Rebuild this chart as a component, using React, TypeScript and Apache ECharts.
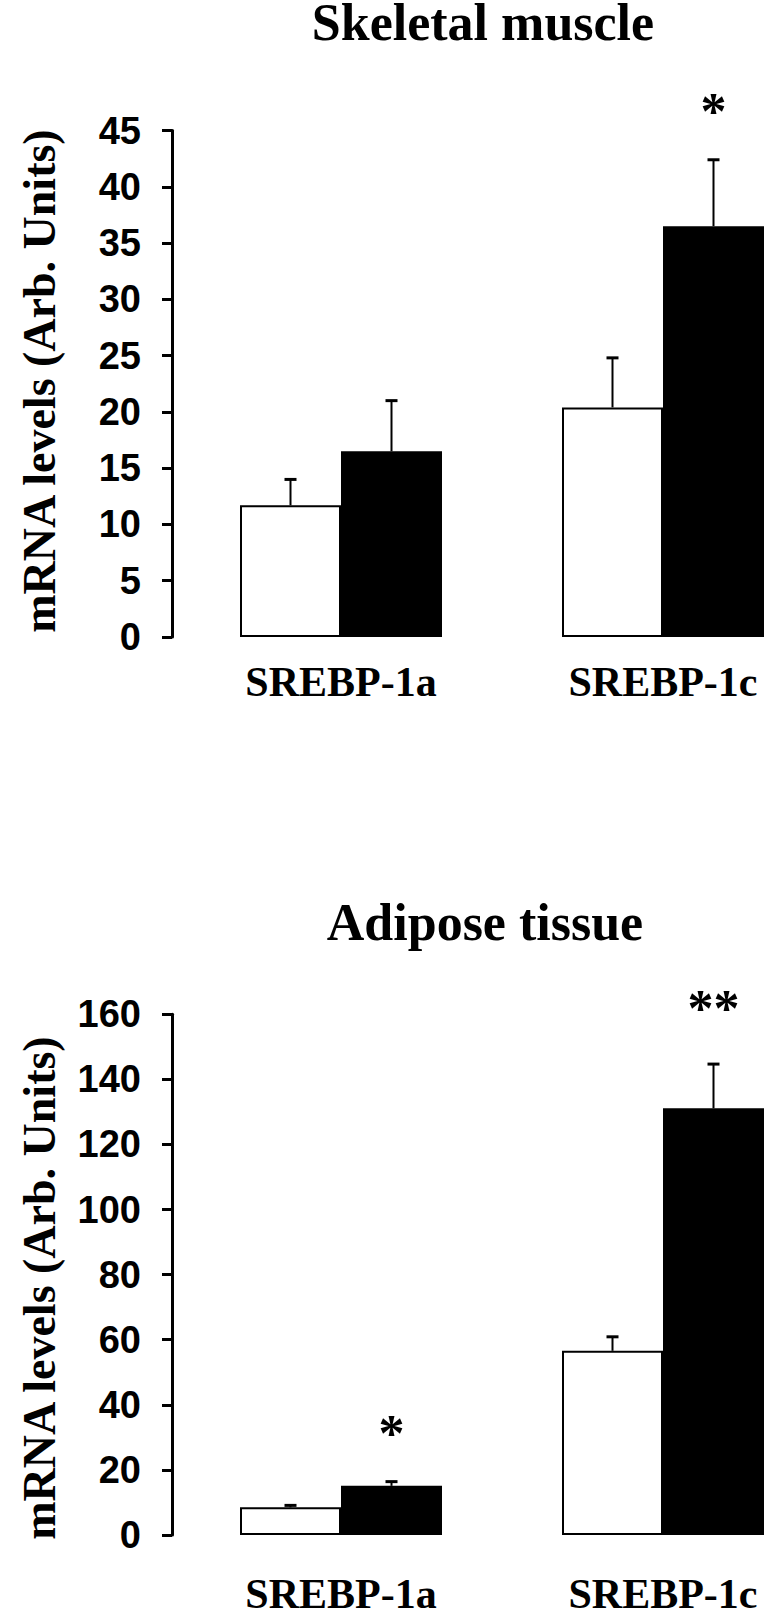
import { useEffect, useRef } from "react";
import * as echarts from "echarts";

const categories = ["SREBP-1a", "SREBP-1c"];

const muscleTitle = "Skeletal muscle";
const muscleControl = [11.7, 20.4];
const muscleControlSem = [2.3, 4.4];
const muscleTreated = [16.5, 36.5];
const muscleTreatedSem = [4.5, 5.9];
const muscleSig = ["", "*"];
const muscleAxis = { min: 0, max: 45, interval: 5 };

const adiposeTitle = "Adipose tissue";
const adiposeControl = [8.5, 56.6];
const adiposeControlSem = [0.6, 4.3];
const adiposeTreated = [15.1, 131.1];
const adiposeTreatedSem = [1.3, 13.6];
const adiposeSig = ["*", "**"];
const adiposeAxis = { min: 0, max: 160, interval: 20 };

const yTitle = "mRNA levels (Arb. Units)";

const SERIF = "'Liberation Serif', 'Times New Roman', serif";
const SANS = "'Liberation Sans', Arial, sans-serif";
const BAR_W = 101;

function errorSeries(g: number, means: number[], sems: number[], sig: string[], offset: number, lifts: number[]) {
  return {
    type: "custom",
    xAxisIndex: g,
    yAxisIndex: g,
    z: 5,
    data: means.map((m, i) => [i, m, m + sems[i]]),
    encode: { x: 0, y: [1, 2] },
    renderItem: (params: any, api: any) => {
      const i = api.value(0);
      const base = api.coord([i, api.value(1)]);
      const top = api.coord([i, api.value(2)]);
      const x = base[0] + offset;
      const children: any[] = [
        { type: "line", shape: { x1: x, y1: base[1], x2: x, y2: top[1] }, style: { stroke: "#000", lineWidth: 2 } },
        { type: "line", shape: { x1: x - 6, y1: top[1], x2: x + 6, y2: top[1] }, style: { stroke: "#000", lineWidth: 3 } },
      ];
      const s = sig[params.dataIndex];
      if (s) {
        children.push({
          type: "text",
          x,
          y: top[1] - lifts[params.dataIndex],
          style: {
            text: s,
            align: "center",
            verticalAlign: "middle",
            fontSize: 52,
            fontWeight: "bold",
            fontFamily: SERIF,
            fill: "#000",
          },
        });
      }
      return { type: "group", children };
    },
  };
}

function yAxisCfg(g: number, ax: { min: number; max: number; interval: number }) {
  return {
    gridIndex: g,
    type: "value",
    min: ax.min,
    max: ax.max,
    interval: ax.interval,
    offset: 8,
    splitLine: { show: false },
    axisLine: { show: true, lineStyle: { color: "#000", width: 3 } },
    axisTick: { show: true, length: 10, lineStyle: { color: "#000", width: 3 } },
    axisLabel: { color: "#000", fontFamily: SANS, fontWeight: "bold", fontSize: 38, margin: 31 },
  };
}

function xAxisCfg(g: number, margin: number) {
  return {
    gridIndex: g,
    type: "category",
    data: categories,
    axisLine: { show: false },
    axisTick: { show: false },
    axisLabel: { color: "#000", fontFamily: SERIF, fontWeight: "bold", fontSize: 42, margin },
  };
}

function barSeries(g: number, data: number[], color: string) {
  return {
    type: "bar",
    xAxisIndex: g,
    yAxisIndex: g,
    data,
    barWidth: BAR_W,
    barGap: "0%",
    itemStyle: { color, borderColor: "#000", borderWidth: 2 },
  };
}

function textEl(text: string, x: number, y: number, size: number, rotation = 0) {
  return {
    type: "text",
    x,
    y,
    rotation,
    style: { text, align: "center", verticalAlign: "middle", fontSize: size, fontWeight: "bold", fontFamily: SERIF, fill: "#000" },
  };
}

export default function App() {
  const ref = useRef<HTMLDivElement>(null);
  useEffect(() => {
    if (!ref.current) return;
    const chart = echarts.init(ref.current, undefined, { renderer: "svg" });
    chart.setOption({
      animation: false,
      backgroundColor: "#fff",
      grid: [
        { left: 180, width: 644, top: 130.5, height: 506.5, containLabel: false, outerBoundsMode: "none" },
        { left: 180, width: 644, top: 1014.3, height: 520.7, containLabel: false, outerBoundsMode: "none" },
      ],
      xAxis: [xAxisCfg(0, 24), xAxisCfg(1, 38)],
      yAxis: [yAxisCfg(0, muscleAxis), yAxisCfg(1, adiposeAxis)],
      graphic: [
        textEl(muscleTitle, 483, 22, 52),
        textEl(adiposeTitle, 485, 922, 52),
        textEl(yTitle, 39, 381, 46, Math.PI / 2),
        textEl(yTitle, 39, 1288, 46, Math.PI / 2),
      ],
      series: [
        barSeries(0, muscleControl, "#fff"),
        barSeries(0, muscleTreated, "#000"),
        errorSeries(0, muscleControl, muscleControlSem, ["", ""], -BAR_W / 2, [0, 0]),
        errorSeries(0, muscleTreated, muscleTreatedSem, muscleSig, BAR_W / 2, [48, 48]),
        barSeries(1, adiposeControl, "#fff"),
        barSeries(1, adiposeTreated, "#000"),
        errorSeries(1, adiposeControl, adiposeControlSem, ["", ""], -BAR_W / 2, [0, 0]),
        errorSeries(1, adiposeTreated, adiposeTreatedSem, adiposeSig, BAR_W / 2, [48, 56]),
      ],
    });
    return () => chart.dispose();
  }, []);
  return (
    <div
      ref={ref}
      style={{ position: "absolute", left: 0, top: 0, width: 770, height: 1611, background: "#fff" }}
    />
  );
}
